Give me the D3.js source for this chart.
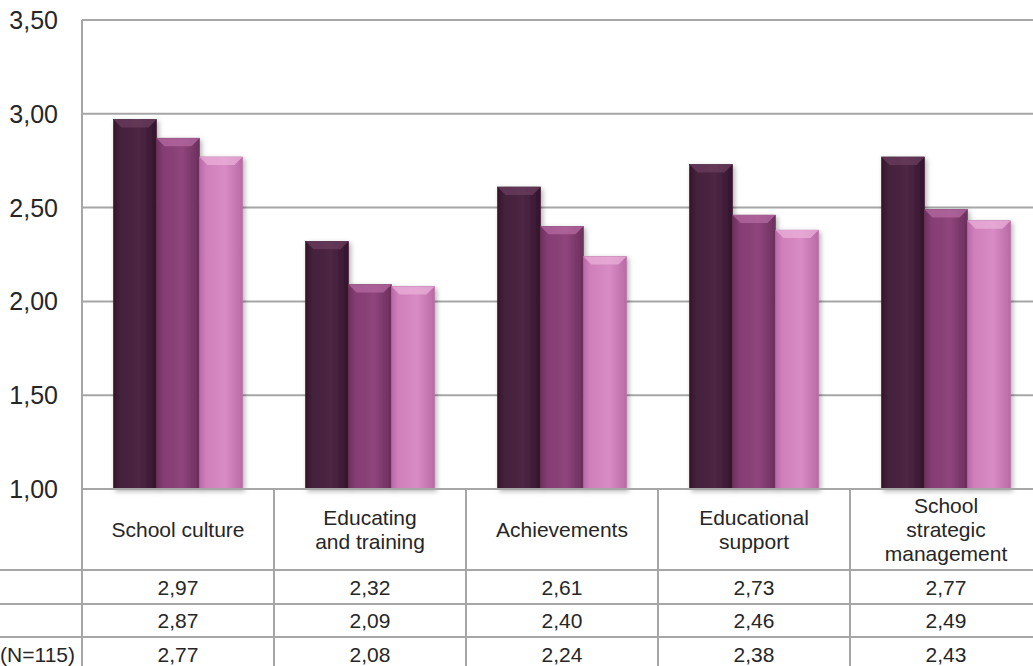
<!DOCTYPE html>
<html>
<head>
<meta charset="utf-8">
<script src="https://cdn.jsdelivr.net/npm/d3@7"></script>
<style>
  body { margin: 0; background: #fff; }
  text { font-family: "Liberation Sans", Arial, sans-serif; fill: #262626; }
</style>
</head>
<body>
<div id="chart"></div>
<script>
const width = 1033, height = 666;

const categories = [["School culture"], ["Educating", "and training"], ["Achievements"], ["Educational", "support"], ["School", "strategic", "management"]];
const seriesLabels = ["", "", "(N=115)"];
const series1 = [2.97, 2.32, 2.61, 2.73, 2.77];
const series2 = [2.87, 2.09, 2.40, 2.46, 2.49];
const series3 = [2.77, 2.08, 2.24, 2.38, 2.43];
const yTicks = [1.00, 1.50, 2.00, 2.50, 3.00, 3.50];

const allSeries = [series1, series2, series3];
const colors = [
  {base: "#43203a", light: "#4e2645", dark: "#33152b", bevel: "#6a3d5e"},
  {base: "#843d72", light: "#8f457c", dark: "#6b2f5c", bevel: "#b46aa1"},
  {base: "#cf7fbb", light: "#d88bc4", dark: "#b86aa4", bevel: "#eab0da"}
];

const plot = {left: 82, top: 20, right: 1042, bottom: 489};
const rowLines = [570, 604, 637, 671];
const lineColor = "#a6a6a6";

const fmt = v => d3.format(".2f")(v).replace(".", ",");

const svg = d3.select("#chart").append("svg").attr("width", width).attr("height", height);
const defs = svg.append("defs");

colors.forEach((c, i) => {
  const g = defs.append("linearGradient").attr("id", "grad" + i).attr("x1", 0).attr("x2", 1).attr("y1", 0).attr("y2", 0);
  g.append("stop").attr("offset", "0%").attr("stop-color", c.dark);
  g.append("stop").attr("offset", "15%").attr("stop-color", c.base);
  g.append("stop").attr("offset", "60%").attr("stop-color", c.light);
  g.append("stop").attr("offset", "100%").attr("stop-color", c.dark);
});
const shadow = defs.append("filter").attr("id", "shadow").attr("x", "-20%").attr("y", "-20%").attr("width", "150%").attr("height", "150%");
shadow.append("feDropShadow").attr("dx", 2).attr("dy", 2).attr("stdDeviation", 2.5).attr("flood-color", "#000").attr("flood-opacity", 0.3);

const yScale = d3.scaleLinear().domain([1, 3.5]).range([plot.bottom, plot.top]);
const x0 = d3.scaleBand().domain(d3.range(categories.length)).range([plot.left, plot.right]);
const bw = x0.bandwidth();
const x1 = d3.scaleBand().domain(d3.range(allSeries.length)).range([bw * 0.164, bw * 0.836]);

// gridlines
svg.append("g").selectAll("line").data(yTicks.slice(1)).enter().append("line")
  .attr("x1", plot.left).attr("x2", width)
  .attr("y1", d => yScale(d)).attr("y2", d => yScale(d))
  .attr("stroke", lineColor).attr("stroke-width", 2);

// y tick labels
svg.append("g").selectAll("text").data(yTicks).enter().append("text")
  .attr("x", 58).attr("y", d => yScale(d)).attr("dy", "0.36em")
  .attr("text-anchor", "end").attr("font-size", 25)
  .text(d => fmt(d));

// bars
const groups = svg.append("g").selectAll("g").data(categories).enter().append("g")
  .attr("transform", (d, i) => `translate(${x0(i)},0)`);

allSeries.forEach((s, si) => {
  const bar = groups.append("g").attr("filter", "url(#shadow)");
  const bx = x1(si), w = x1.bandwidth(), bev = 8;
  bar.append("rect")
    .attr("x", bx).attr("width", w)
    .attr("y", (d, i) => yScale(s[i]))
    .attr("height", (d, i) => yScale(1) - yScale(s[i]))
    .attr("fill", `url(#grad${si})`)
    .attr("stroke", colors[si].dark).attr("stroke-width", 0.6);
  bar.append("path")
    .attr("d", (d, i) => {
      const y = yScale(s[i]);
      return `M${bx},${y}L${bx + w},${y}L${bx + w - bev},${y + bev}L${bx + bev},${y + bev}Z`;
    })
    .attr("fill", colors[si].bevel).attr("opacity", 0.75);
});

// table lines
const tbl = svg.append("g").attr("stroke", lineColor).attr("stroke-width", 2);
tbl.append("line").attr("x1", plot.left).attr("x2", width).attr("y1", plot.top).attr("y2", plot.top);
tbl.append("line").attr("x1", plot.left).attr("x2", width).attr("y1", plot.bottom).attr("y2", plot.bottom);
tbl.selectAll(".row").data(rowLines.slice(0, 3)).enter().append("line")
  .attr("x1", 0).attr("x2", width).attr("y1", d => d).attr("y2", d => d);
tbl.append("line").attr("x1", plot.left).attr("x2", plot.left).attr("y1", plot.top).attr("y2", height);
tbl.selectAll(".col").data(d3.range(1, categories.length)).enter().append("line")
  .attr("x1", d => x0(d)).attr("x2", d => x0(d)).attr("y1", plot.bottom).attr("y2", height);

// category labels
const header = svg.append("g").selectAll("text").data(categories).enter().append("text")
  .attr("text-anchor", "middle").attr("font-size", 21)
  .attr("x", (d, i) => x0(i) + bw / 2)
  .attr("y", d => (plot.bottom + rowLines[0]) / 2 - (d.length - 1) * 12);
header.selectAll("tspan").data(d => d).enter().append("tspan")
  .attr("x", function() { return this.parentNode.getAttribute("x"); })
  .attr("dy", (d, i) => i === 0 ? "0.36em" : 24)
  .text(d => d);

// value rows
allSeries.forEach((s, si) => {
  const yMid = (rowLines[si] + rowLines[si + 1]) / 2;
  svg.append("text").attr("x", 75).attr("y", yMid).attr("dy", "0.36em")
    .attr("text-anchor", "end").attr("font-size", 21).text(seriesLabels[si]);
  svg.append("g").selectAll("text").data(s).enter().append("text")
    .attr("x", (d, i) => x0(i) + bw / 2).attr("y", yMid).attr("dy", "0.36em")
    .attr("text-anchor", "middle").attr("font-size", 21)
    .text(d => fmt(d));
});
</script>
</body>
</html>
